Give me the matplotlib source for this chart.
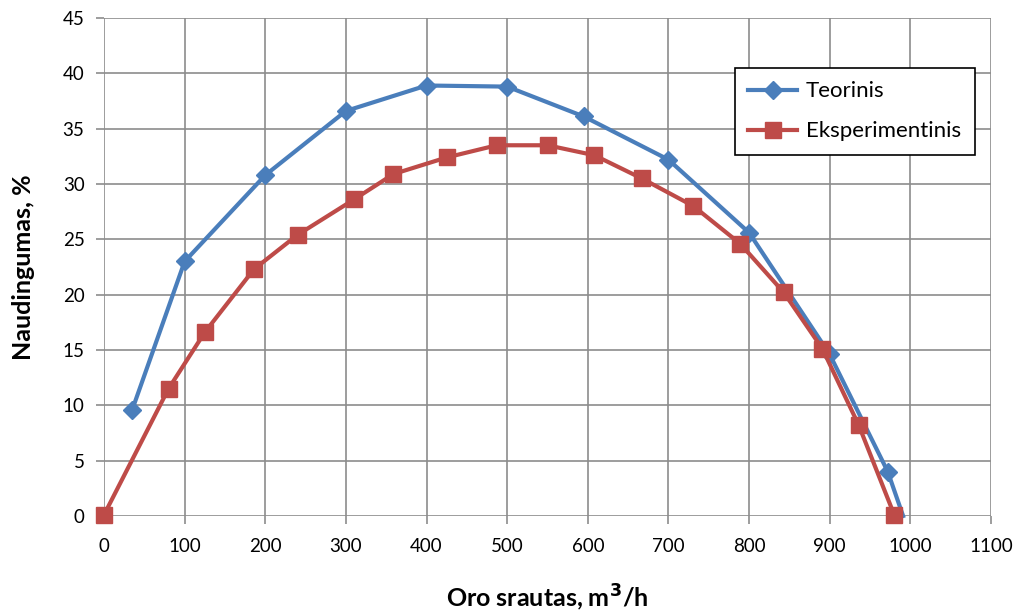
import matplotlib.pyplot as plt

# Teorinis
teor_x = [35, 100, 200, 300, 400, 500, 595, 700, 800, 900, 972, 991]
teor_y = [9.6, 23.0, 30.8, 36.6, 38.9, 38.8, 36.1, 32.2, 25.6, 14.6, 4.0, 0.0]

# Eksperimentinis
eksp_x = [0, 80, 125, 186, 240, 310, 359, 425, 487, 550, 608, 667, 731, 789, 843, 891, 936, 980]
eksp_y = [0.1, 11.5, 16.6, 22.3, 25.4, 28.6, 30.9, 32.4, 33.5, 33.5, 32.6, 30.5, 28.0, 24.6, 20.2, 15.1, 8.2, 0.1]

plt.rcParams['font.family'] = ['Lato', 'DejaVu Sans']

fig = plt.figure(figsize=(10.19, 6.13), dpi=100)
ax = fig.add_axes([104 / 1019, 1 - 516 / 613, (991 - 104) / 1019, (516 - 18) / 613])

# last theoretical point sits on the axis without a visible marker
ax.plot(teor_x, teor_y, color='#4a7ebb', lw=3, marker='D', ms=9,
        markevery=list(range(len(teor_x) - 1)),
        label='Teorinis', zorder=3, clip_on=False)
ax.plot(eksp_x, eksp_y, color='#be4b48', lw=3, marker='s', ms=12,
        label='Eksperimentinis', zorder=4, clip_on=False)

ax.set_xlim(0, 1100)
ax.set_ylim(0, 45)
ax.set_xticks(range(0, 1101, 100))
ax.set_yticks(range(0, 46, 5))
ax.grid(True, color='#8c8c8c', lw=1.2)
ax.set_axisbelow(True)
for s in ax.spines.values():
    s.set_visible(False)
ax.tick_params(axis='both', color='#8c8c8c', length=6, width=1.2,
               labelsize=13.5, colors='black')
ax.tick_params(axis='x', pad=10)
ax.tick_params(axis='y', pad=8)
for t in ax.get_xticklabels() + ax.get_yticklabels():
    t.set_color('black')

ax.set_xlabel('Oro srautas, m$^\\mathbf{3}$/h', fontsize=18, fontweight='bold', labelpad=20)
ax.set_ylabel('Naudingumas, %', fontsize=18, fontweight='bold', labelpad=20)

leg = ax.legend(loc='upper left', bbox_to_anchor=((735 - 104) / 887, 1 - (68 - 18) / 498),
                fontsize=16, frameon=True, fancybox=False, edgecolor='black',
                framealpha=1, handlelength=2.2, handletextpad=0.4,
                borderpad=0.6, labelspacing=0.9, borderaxespad=0)
leg.get_frame().set_linewidth(1.2)

fig.savefig('out.png', dpi=100)
